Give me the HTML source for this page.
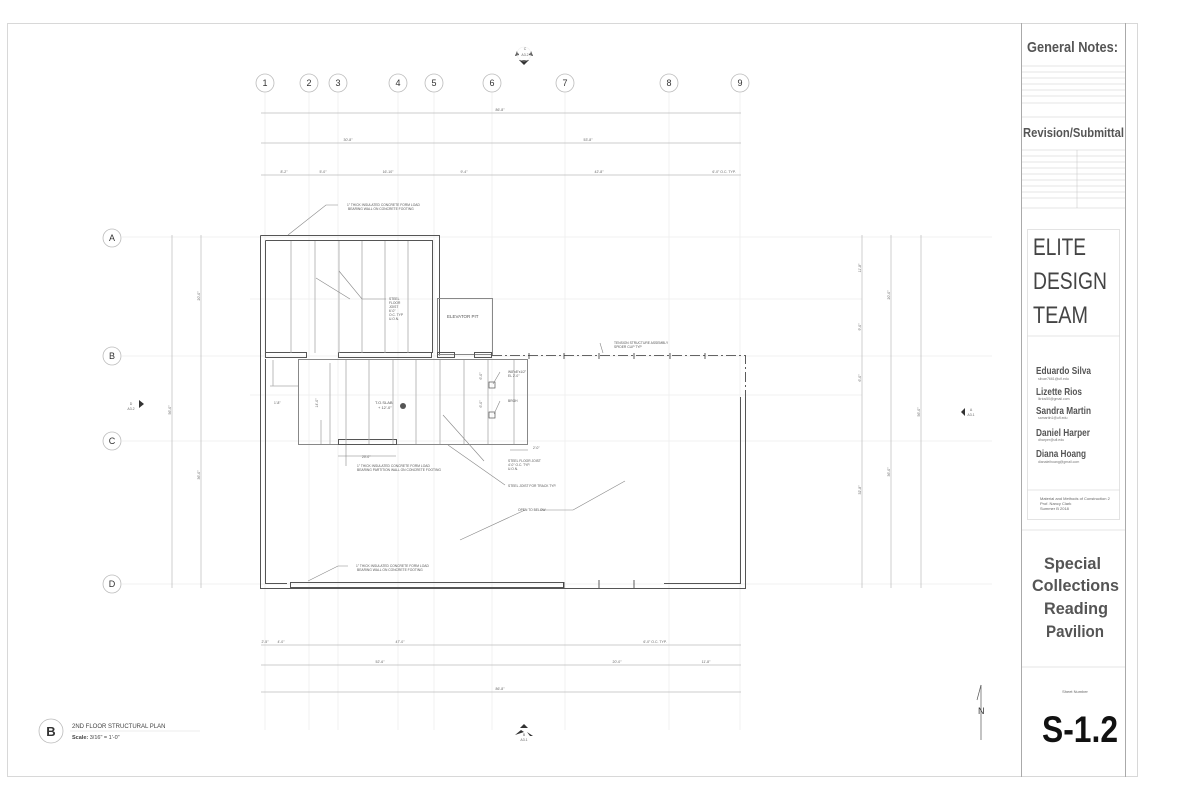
<!DOCTYPE html>
<html><head><meta charset="utf-8"><style>
html,body{margin:0;padding:0;background:#fff;width:1200px;height:800px;overflow:hidden}
text{font-family:"Liberation Sans",sans-serif}
</style></head><body>
<svg width="1200" height="800" viewBox="0 0 1200 800" xmlns="http://www.w3.org/2000/svg">
<rect width="1200" height="800" fill="#fff"/>
<rect x="7.5" y="23.5" width="1130" height="753" fill="none" stroke="#d8d8d8" stroke-width="1"/>
<line x1="1021.5" y1="23" x2="1021.5" y2="777" stroke="#aaa"/>
<line x1="1125.5" y1="23" x2="1125.5" y2="777" stroke="#aaa"/>

<g stroke="#ececec" stroke-width="0.7">
<line x1="265" y1="92" x2="265" y2="730"/><line x1="309" y1="92" x2="309" y2="730"/>
<line x1="338" y1="92" x2="338" y2="730"/><line x1="398" y1="92" x2="398" y2="730"/>
<line x1="434" y1="92" x2="434" y2="730"/><line x1="492" y1="92" x2="492" y2="730"/>
<line x1="565" y1="92" x2="565" y2="730"/><line x1="669" y1="92" x2="669" y2="730"/>
<line x1="740" y1="92" x2="740" y2="730"/>
<line x1="122" y1="237" x2="992" y2="237"/><line x1="122" y1="356" x2="992" y2="356"/>
<line x1="122" y1="441" x2="992" y2="441"/><line x1="122" y1="584" x2="992" y2="584"/>
<line x1="250" y1="299" x2="862" y2="299"/><line x1="250" y1="395" x2="862" y2="395"/>
</g>
<g fill="#fff" stroke="#bbb" stroke-width="0.8">
<circle cx="265" cy="83" r="9"/><circle cx="309" cy="83" r="9"/><circle cx="338" cy="83" r="9"/>
<circle cx="398" cy="83" r="9"/><circle cx="434" cy="83" r="9"/><circle cx="492" cy="83" r="9"/>
<circle cx="565" cy="83" r="9"/><circle cx="669" cy="83" r="9"/><circle cx="740" cy="83" r="9"/>
<circle cx="112" cy="238" r="9"/><circle cx="112" cy="356" r="9"/><circle cx="112" cy="441" r="9"/><circle cx="112" cy="584" r="9"/>
</g>
<g font-size="9" fill="#333" text-anchor="middle">
<text x="265" y="86">1</text><text x="309" y="86">2</text><text x="338" y="86">3</text><text x="398" y="86">4</text>
<text x="434" y="86">5</text><text x="492" y="86">6</text><text x="565" y="86">7</text><text x="669" y="86">8</text><text x="740" y="86">9</text>
<text x="112" y="241">A</text><text x="112" y="359">B</text><text x="112" y="444">C</text><text x="112" y="587">D</text>
</g>

<g stroke="#bbb" stroke-width="0.7">
<line x1="261" y1="113" x2="741" y2="113"/>
<line x1="261" y1="143" x2="741" y2="143"/>
<line x1="261" y1="175" x2="741" y2="175"/>
<line x1="261" y1="645" x2="741" y2="645"/>
<line x1="261" y1="665" x2="741" y2="665"/>
<line x1="261" y1="692" x2="741" y2="692"/>
<line x1="172" y1="235" x2="172" y2="588"/>
<line x1="201" y1="235" x2="201" y2="588"/>
<line x1="862" y1="235" x2="862" y2="588"/>
<line x1="891" y1="235" x2="891" y2="588"/>
<line x1="921" y1="235" x2="921" y2="588"/>
</g>
<g font-size="3.5" fill="#666" text-anchor="middle">
<text x="500" y="111">86'-8"</text>
<text x="348" y="141">30'-8"</text><text x="588" y="141">53'-8"</text>
<text x="284" y="173">8'-2"</text><text x="323" y="173">5'-0"</text><text x="388" y="173">16'-10"</text>
<text x="464" y="173">9'-4"</text><text x="599" y="173">42'-8"</text><text x="724" y="173">6'-0" O.C. TYP.</text>
<text x="400" y="643">47'-0"</text><text x="265" y="643">2'-5"</text><text x="281" y="643">4'-0"</text>
<text x="655" y="643">6'-0" O.C. TYP.</text>
<text x="380" y="663">52'-6"</text><text x="617" y="663">20'-0"</text><text x="706" y="663">11'-8"</text>
<text x="500" y="690">86'-8"</text>
</g>

<g fill="none" stroke="#555" stroke-width="1">
<path d="M260.5 235.5 H439.5 V355.5"/>
<path d="M265.5 240.5 H432.5 V353"/>
<path d="M260.5 235.5 V588.5 H745.5 V397"/>
<path d="M265.5 240.5 V352"/>
<path d="M265.5 359 V583.5 H287"/>
<rect x="290.5" y="582.5" width="273" height="5"/>
<path d="M664 583.5 H740.5 V397"/>
<rect x="437.5" y="298.5" width="55" height="56" stroke="#888"/>
<rect x="298.5" y="359.5" width="229" height="85" stroke="#888"/>
<rect x="338.5" y="439.5" width="58" height="5"/>
<rect x="265.5" y="352.5" width="41" height="5"/>
<rect x="338.5" y="352.5" width="93" height="5"/>
<rect x="437.5" y="352.5" width="17" height="5"/>
<rect x="474.5" y="352.5" width="17" height="5"/>
</g>
<path d="M492 355.5 H745.5 V397" fill="none" stroke="#333" stroke-width="0.8" stroke-dasharray="10,3,2,3"/>
<g stroke="#aaa" stroke-width="0.8">
<line x1="291" y1="241" x2="291" y2="353"/><line x1="315" y1="241" x2="315" y2="353"/>
<line x1="339" y1="241" x2="339" y2="353"/><line x1="362" y1="241" x2="362" y2="353"/>
<line x1="385" y1="241" x2="385" y2="353"/><line x1="408" y1="241" x2="408" y2="353"/>
<line x1="346" y1="360" x2="346" y2="444"/><line x1="369" y1="360" x2="369" y2="444"/>
<line x1="393" y1="360" x2="393" y2="444"/><line x1="416" y1="360" x2="416" y2="444"/>
<line x1="440" y1="360" x2="440" y2="444"/><line x1="464" y1="360" x2="464" y2="444"/>
<line x1="488" y1="360" x2="488" y2="444"/><line x1="514" y1="360" x2="514" y2="444"/>
<line x1="273" y1="360" x2="273" y2="386"/><line x1="270" y1="386" x2="298" y2="386"/>
<line x1="330" y1="363" x2="330" y2="444"/><line x1="321" y1="420" x2="321" y2="444"/>
<line x1="338" y1="456" x2="396" y2="456"/><line x1="510" y1="450" x2="528" y2="450"/>
</g>
<g stroke="#333" stroke-width="0.8">
<line x1="529" y1="353" x2="529" y2="359"/><line x1="564" y1="353" x2="564" y2="359"/>
<line x1="599" y1="353" x2="599" y2="359"/><line x1="634" y1="353" x2="634" y2="359"/>
<line x1="670" y1="353" x2="670" y2="359"/><line x1="705" y1="353" x2="705" y2="359"/>
<line x1="564" y1="582" x2="564" y2="588"/><line x1="599" y1="580" x2="599" y2="588"/><line x1="634" y1="580" x2="634" y2="588"/>
</g>
<rect x="489" y="382" width="6" height="6" fill="none" stroke="#555" stroke-width="0.7"/>
<rect x="489" y="412" width="6" height="6" fill="none" stroke="#555" stroke-width="0.7"/>
<circle cx="403" cy="406" r="3" fill="#555"/>

<g stroke="#888" stroke-width="0.6" fill="none">
<path d="M338 205 L326 205 L288 235"/>
<path d="M386 299 L362 299 L339 271"/><path d="M350 299 L316 278"/>
<path d="M484 461 L443 415"/><path d="M505 485 L448 445"/>
<path d="M600 343 L603 353"/>
<path d="M500 372 L493 384"/><path d="M500 401 L494 414"/>
<path d="M540 510 L573 510 L625 481"/><path d="M525 510 L460 540"/>
<path d="M348 566 L338 566 L308 581"/>
<path d="M346 466 L346 445"/>
</g>
<g font-size="3.3" fill="#555">
<text x="347" y="206">1" THICK INSULATED CONCRETE FORM LOAD</text>
<text x="348" y="210">BEARING WALL ON CONCRETE FOOTING</text>
<text x="389" y="300">STEEL</text><text x="389" y="304">FLOOR</text><text x="389" y="308">JOIST</text>
<text x="389" y="312">6'-0"</text><text x="389" y="316">O.C. TYP</text><text x="389" y="320">U.O.N.</text>
<text x="447" y="318" font-size="4.5">ELEVATOR PIT</text>
<text x="614" y="344">TENSION STRUCTURE ASSEMBLY</text><text x="614" y="348">SPIDER CLIP TYP</text>
<text x="508" y="373">W8"x8"x1/2"</text><text x="508" y="377">EL 2'-0"</text>
<text x="508" y="402">BRGH</text>
<text x="375" y="404" font-size="4">T.O.SLAB</text><text x="378" y="409" font-size="4">+ 12'-0"</text>
<text x="508" y="462">STEEL FLOOR JOIST</text><text x="508" y="466">4'-0" O.C. TYP.</text><text x="508" y="470">U.O.N.</text>
<text x="508" y="487">STEEL JOIST FOR TRACK TYP.</text>
<text x="518" y="511">OPEN TO BELOW</text>
<text x="357" y="467">1" THICK INSULATED CONCRETE FORM LOAD</text>
<text x="357" y="471">BEARING PARTITION WALL ON CONCRETE FOOTING</text>
<text x="356" y="567">1" THICK INSULATED CONCRETE FORM LOAD</text>
<text x="357" y="571">BEARING WALL ON CONCRETE FOOTING</text>
<text x="362" y="458">20'-0"</text><text x="533" y="449">2'-0"</text><text x="274" y="404">1'-8"</text>
</g>
<g font-size="3.5" fill="#666" text-anchor="middle">
<text transform="translate(200,296) rotate(-90)">20'-0"</text>
<text transform="translate(171,410) rotate(-90)">56'-0"</text>
<text transform="translate(200,475) rotate(-90)">36'-0"</text>
<text transform="translate(861,268) rotate(-90)">11'-8"</text>
<text transform="translate(861,327) rotate(-90)">9'-0"</text>
<text transform="translate(861,378) rotate(-90)">6'-0"</text>
<text transform="translate(861,490) rotate(-90)">32'-8"</text>
<text transform="translate(890,295) rotate(-90)">20'-0"</text>
<text transform="translate(890,472) rotate(-90)">36'-0"</text>
<text transform="translate(920,412) rotate(-90)">56'-0"</text>
<text transform="translate(318,403) rotate(-90)">14'-0"</text>
<text transform="translate(482,376) rotate(-90)">6'-0"</text>
<text transform="translate(482,404) rotate(-90)">6'-0"</text>
</g>

<g fill="#333">
<path d="M519 60 L524 65 L529 60 Z"/><path d="M517 51 L515 56 L519 55 Z"/><path d="M531 51 L533 56 L529 55 Z"/>
<path d="M515 735 L521 730 L524 732 Z"/><path d="M524 724 L520 728 L528 728 Z"/><path d="M527 732 L530 736 L533 736 Z"/>
<path d="M144 404 L139 400 L139 408 Z"/><path d="M961 412 L965 408 L965 416 Z"/>
</g>
<circle cx="524" cy="54" r="7" fill="none" stroke="#eee" stroke-width="0.6"/>
<g font-size="3.5" fill="#666" text-anchor="middle">
<text x="525" y="50">C</text><text x="525" y="56">A3.2</text>
<text x="524" y="736">B</text><text x="524" y="741">A3.1</text>
<text x="131" y="405">D</text><text x="131" y="410">A3.2</text>
<text x="971" y="411">A</text><text x="971" y="416">A3.1</text>
</g>
<g stroke="#555" stroke-width="0.7" fill="none">
<line x1="981" y1="685" x2="981" y2="740"/><path d="M981 685 L977 700"/>
</g>
<text x="978" y="714" font-size="9" fill="#333" font-family="Liberation Serif">N</text>

<circle cx="51" cy="731" r="12" fill="#fff" stroke="#bbb" stroke-width="0.8"/>
<text x="51" y="736" font-size="13" font-weight="bold" fill="#333" text-anchor="middle">B</text>
<text x="72" y="728" font-size="6" fill="#444">2ND FLOOR STRUCTURAL PLAN</text>
<line x1="70" y1="731" x2="200" y2="731" stroke="#ddd" stroke-width="0.6"/>
<text x="72" y="739" font-size="5.5" fill="#444"><tspan font-weight="bold">Scale:</tspan> 3/16" = 1'-0"</text>

<text x="1027" y="52" font-size="15" font-weight="bold" fill="#555" textLength="91" lengthAdjust="spacingAndGlyphs">General Notes:</text>
<g stroke="#ccc" stroke-width="0.6">
<line x1="1022" y1="66" x2="1125" y2="66"/><line x1="1022" y1="72" x2="1125" y2="72"/>
<line x1="1022" y1="78" x2="1125" y2="78"/><line x1="1022" y1="84" x2="1125" y2="84"/>
<line x1="1022" y1="90" x2="1125" y2="90"/><line x1="1022" y1="96" x2="1125" y2="96"/>
<line x1="1022" y1="103" x2="1125" y2="103"/><line x1="1022" y1="117" x2="1125" y2="117"/>
<line x1="1022" y1="150" x2="1125" y2="150"/><line x1="1022" y1="156" x2="1125" y2="156"/>
<line x1="1022" y1="162" x2="1125" y2="162"/><line x1="1022" y1="168" x2="1125" y2="168"/>
<line x1="1022" y1="174" x2="1125" y2="174"/><line x1="1022" y1="180" x2="1125" y2="180"/>
<line x1="1022" y1="186" x2="1125" y2="186"/><line x1="1022" y1="192" x2="1125" y2="192"/>
<line x1="1022" y1="198" x2="1125" y2="198"/><line x1="1022" y1="208" x2="1125" y2="208"/>
<line x1="1077" y1="150" x2="1077" y2="208"/>
<line x1="1022" y1="530" x2="1125" y2="530"/><line x1="1022" y1="667" x2="1125" y2="667"/>
</g>
<text x="1023" y="137" font-size="13" font-weight="bold" fill="#555" textLength="101" lengthAdjust="spacingAndGlyphs">Revision/Submittal</text>
<rect x="1027.5" y="229.5" width="92" height="290" fill="none" stroke="#ddd" stroke-width="0.8"/>
<line x1="1027" y1="336" x2="1120" y2="336" stroke="#ddd" stroke-width="0.8"/>
<line x1="1027" y1="490" x2="1120" y2="490" stroke="#ddd" stroke-width="0.8"/>
<g font-size="24" fill="#444">
<text x="1033" y="255" textLength="53" lengthAdjust="spacingAndGlyphs">ELITE</text>
<text x="1033" y="289" textLength="74" lengthAdjust="spacingAndGlyphs">DESIGN</text>
<text x="1033" y="323" textLength="55" lengthAdjust="spacingAndGlyphs">TEAM</text>
</g>
<g fill="#555" font-weight="bold" font-size="10">
<text x="1036" y="374" textLength="55" lengthAdjust="spacingAndGlyphs">Eduardo Silva</text>
<text x="1036" y="395" textLength="46" lengthAdjust="spacingAndGlyphs">Lizette Rios</text>
<text x="1036" y="414" textLength="55" lengthAdjust="spacingAndGlyphs">Sandra Martin</text>
<text x="1036" y="436" textLength="54" lengthAdjust="spacingAndGlyphs">Daniel Harper</text>
<text x="1036" y="457" textLength="50" lengthAdjust="spacingAndGlyphs">Diana Hoang</text>
</g>
<g fill="#777" font-size="3.5">
<text x="1038" y="380">silvae7661@ufl.edu</text><text x="1038" y="400">lkrios50@gmail.com</text>
<text x="1038" y="419">samartin1@ufl.edu</text><text x="1038" y="441">dharper@ufl.edu</text>
<text x="1038" y="463">dianaleihoang@gmail.com</text>
</g>
<g fill="#666" font-size="4">
<text x="1040" y="500">Material and Methods of Construction 2</text>
<text x="1040" y="505">Prof. Nancy Clark</text><text x="1040" y="510">Summer B 2018</text>
</g>
<g font-size="17" font-weight="bold" fill="#555">
<text x="1044" y="569" textLength="57" lengthAdjust="spacingAndGlyphs">Special</text>
<text x="1032" y="591" textLength="87" lengthAdjust="spacingAndGlyphs">Collections</text>
<text x="1044" y="614" textLength="64" lengthAdjust="spacingAndGlyphs">Reading</text>
<text x="1046" y="637" textLength="58" lengthAdjust="spacingAndGlyphs">Pavilion</text>
</g>
<text x="1075" y="693" font-size="4" fill="#666" text-anchor="middle">Sheet Number</text>
<text x="1042" y="742" font-size="37" font-weight="bold" fill="#111" textLength="76" lengthAdjust="spacingAndGlyphs">S-1.2</text>
</svg>
</body></html>
